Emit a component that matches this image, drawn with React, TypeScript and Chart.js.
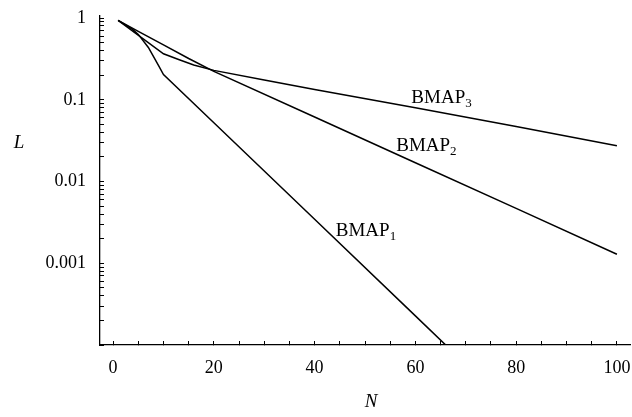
import React, { useEffect, useRef } from "react";
import { Chart, registerables } from "chart.js";

Chart.register(...registerables);

// Series data (N, L)
const nBMAP1 = [1, 4, 5, 7, 9, 10, 20, 40, 60, 70];
const lBMAP1 = [0.937, 0.717, 0.631, 0.437, 0.263, 0.204, 0.0524, 0.00345, 0.000227, 0.0000581];

const nBMAP2 = [1, 5, 10, 15, 20, 40, 60, 80, 100];
const lBMAP2 = [0.937, 0.689, 0.47, 0.32, 0.223, 0.0617, 0.017, 0.00469, 0.00129];

const nBMAP3 = [1, 10, 13, 16, 20, 30, 40, 60, 80, 100];
const lBMAP3 = [0.937, 0.366, 0.311, 0.266, 0.229, 0.175, 0.134, 0.08, 0.0472, 0.0274];

// Axis ticks
const xTickValues = [0, 5, 10, 15, 20, 25, 30, 35, 40, 45, 50, 55, 60, 65, 70, 75, 80, 85, 90, 95, 100];
const xTickLabels = [0, 20, 40, 60, 80, 100];
const yDecades = [0.0001, 0.001, 0.01, 0.1, 1];
const yTickLabels = ["0.001", "0.01", "0.1", "1"];

// In-plot series labels: text, subscript, anchor (N, L)
const labelTexts = ["BMAP", "BMAP", "BMAP"];
const labelSubs = ["1", "2", "3"];
const labelN = [44.2, 56.2, 59.2];
const labelL = [0.00216, 0.0238, 0.0906];

const FONT = '"Liberation Serif", "Times New Roman", serif';

function toPoints(ns: number[], ls: number[]) {
  return ns.map((n, i) => ({ x: n, y: ls[i] }));
}

const labelPlugin = {
  id: "bmapLabels",
  afterDraw(chart: any) {
    const { ctx, scales } = chart;
    const xs = scales.x;
    const ys = scales.y;
    ctx.save();
    ctx.fillStyle = "#000";
    ctx.textAlign = "left";
    ctx.textBaseline = "alphabetic";
    for (let i = 0; i < labelTexts.length; i++) {
      const px = xs.getPixelForValue(labelN[i]);
      const py = ys.getPixelForValue(labelL[i]);
      ctx.font = `19px ${FONT}`;
      ctx.fillText(labelTexts[i], px, py);
      const w = ctx.measureText(labelTexts[i]).width;
      ctx.font = `13px ${FONT}`;
      ctx.fillText(labelSubs[i], px + w, py + 4);
    }
    ctx.font = `italic 19px ${FONT}`;
    ctx.textAlign = "center";
    ctx.textBaseline = "middle";
    ctx.fillText("L", 19, 143);
    ctx.fillText("N", 371, 402);
    ctx.restore();
  },
};

export default function App() {
  const ref = useRef<HTMLCanvasElement | null>(null);

  useEffect(() => {
    if (!ref.current) return;
    const lineStyle = {
      borderColor: "#000",
      borderWidth: 1.5,
      pointRadius: 0,
      fill: false,
      tension: 0,
    };
    const yTickValues: number[] = [];
    yDecades.forEach((d) => {
      for (let m = 1; m <= 9; m++) {
        const v = m * d;
        if (v <= 1.0000001) yTickValues.push(v);
      }
    });
    const chart = new Chart(ref.current, {
      type: "line",
      data: {
        datasets: [
          { label: "BMAP1", data: toPoints(nBMAP1, lBMAP1), ...lineStyle },
          { label: "BMAP2", data: toPoints(nBMAP2, lBMAP2), ...lineStyle },
          { label: "BMAP3", data: toPoints(nBMAP3, lBMAP3), ...lineStyle },
        ],
      },
      options: {
        animation: false,
        responsive: false,
        maintainAspectRatio: false,
        layout: { padding: { left: 0, right: 2, top: 16, bottom: 0 } },
        plugins: { legend: { display: false }, tooltip: { enabled: false } },
        scales: {
          x: {
            type: "linear",
            min: -2.6,
            max: 102.6,
            afterBuildTicks: (s: any) => {
              s.ticks = xTickValues.map((v) => ({ value: v }));
            },
            afterFit: (s: any) => {
              s.height = 72;
              s.paddingLeft = 0;
              s.paddingRight = 0;
            },
            grid: {
              display: true,
              drawOnChartArea: false,
              drawTicks: true,
              tickLength: -4,
              color: "#000",
              tickColor: "#000",
            },
            border: { display: true, color: "#000", width: 1.3 },
            ticks: {
              autoSkip: false,
              maxRotation: 0,
              padding: 16,
              color: "#000",
              font: { family: FONT, size: 18 },
              callback: (v: any) => (xTickLabels.includes(Number(v)) ? String(v) : ""),
            },
          },
          y: {
            type: "logarithmic",
            min: 0.0001,
            max: 1.06,
            afterBuildTicks: (s: any) => {
              s.ticks = yTickValues.map((v) => ({ value: v }));
            },
            afterFit: (s: any) => {
              s.width = 100;
              s.paddingTop = 0;
              s.paddingBottom = 0;
            },
            grid: {
              display: true,
              drawOnChartArea: false,
              drawTicks: true,
              tickLength: -4,
              color: "#000",
              tickColor: "#000",
            },
            border: { display: true, color: "#000", width: 1.3 },
            ticks: {
              autoSkip: false,
              padding: 18,
              color: "#000",
              font: { family: FONT, size: 18 },
              callback: (v: any) => {
                const val = Number(v);
                const idx = [0.001, 0.01, 0.1, 1].findIndex((d) => Math.abs(val - d) / d < 1e-6);
                return idx >= 0 ? yTickLabels[idx] : "";
              },
            },
          },
        },
      },
      plugins: [labelPlugin],
    });
    return () => chart.destroy();
  }, []);

  return (
    <div style={{ position: "absolute", left: 0, top: 0, width: 632, height: 417, background: "#fff" }}>
      <canvas ref={ref} width={632} height={417} />
    </div>
  );
}
